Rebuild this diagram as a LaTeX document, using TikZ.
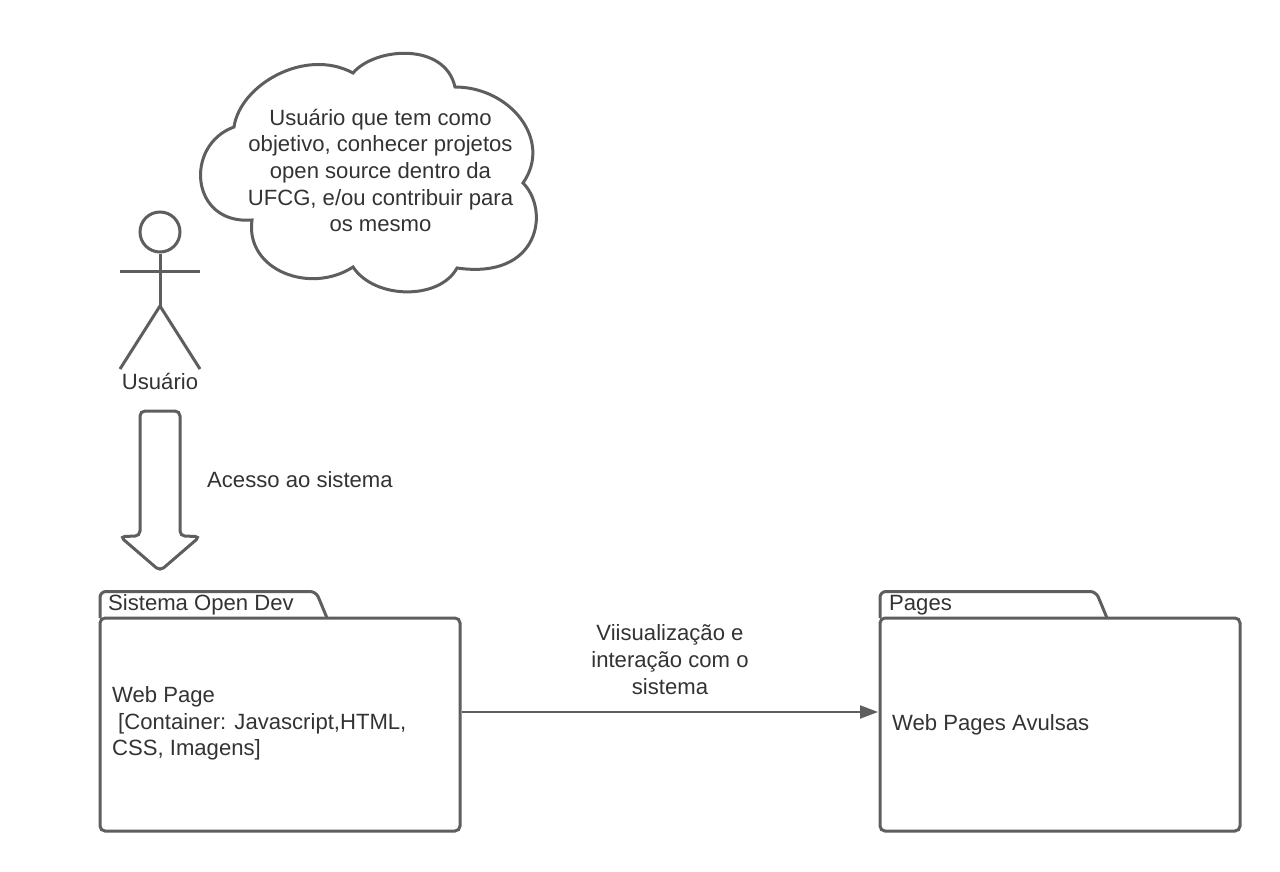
\documentclass[tikz,border=0pt]{standalone}
\usepackage{fontspec}
\setmainfont{Liberation Sans}
\usetikzlibrary{arrows.meta}
\definecolor{linegray}{HTML}{5E5E5E}
\definecolor{textgray}{HTML}{333333}
\tikzset{
  x=1pt,y=-1pt,
  shapeline/.style={draw=linegray,line width=3pt,fill=white},
  label/.style={text=textgray,inner sep=0pt,font=\fontsize{22.1}{26.7}\selectfont},
  folderbody/.style={shapeline,rounded corners=5pt,inner sep=0pt,minimum width=360pt,minimum height=213pt},
  foldertab/.style={shapeline,rounded corners=6pt},
  stick/.style={draw=linegray,line width=3pt},
  link/.style={draw=linegray,line width=2pt,-{Triangle[length=18pt,width=13pt]},shorten >=0.5pt}
}
\begin{document}
\begin{tikzpicture}
\useasboundingbox (0,0) rectangle (1280,872);
\fill[white] (0,0) rectangle (1280,872);
% cloud
\draw[shapeline,line join=miter]
  (234,127) .. controls (240,85) and (305,47) .. (353,73)
  .. controls (375,47) and (445,42) .. (455,87)
  .. controls (510,87) and (553,140) .. (523,183)
  .. controls (550,210) and (540,280) .. (457,268)
  .. controls (440,300) and (375,300) .. (353,267)
  .. controls (310,295) and (245,270) .. (252,220)
  .. controls (190,225) and (184,145) .. (234,127) -- cycle;
\node[label,align=center] (cloudtext) at (380.5,170.5) {Usuário que tem como\\objetivo, conhecer projetos\\open source dentro da\\UFCG, e/ou contribuir para\\os mesmo};
% actor
\node[stick,circle,inner sep=0pt,minimum size=40pt] (head) at (160,232) {};
\coordinate (hip) at (160,306);
\coordinate (armL) at (120,271);
\coordinate (armR) at (200,271);
\coordinate (footL) at (120,369);
\coordinate (footR) at (200,369);
\draw[stick] (head.south) -- (hip);
\draw[stick] (armL) -- (armR);
\draw[stick,line join=miter] (footL) -- (hip) -- (footR);
\node[label] (user) at (160,381) {Usuário};
% block arrow
\draw[shapeline,rounded corners=5pt]
  (140,411) -- (180,411) -- (180,536) -- (200,536.5) -- (160,571) -- (120,536.5) -- (140,536) -- cycle;
\node[label,anchor=base west] (access) at (207,487) {Acesso ao sistema};
% folders
\draw[foldertab] (100,618) -- (100,591.5) -- (316,591.5) -- (327,618);
\node[folderbody] (sys) at (280,724.5) {};
\node[label,anchor=base west] (systitle) at (108,610) {Sistema Open Dev};
\node[label,anchor=west,align=left] (systext) at (112,723.5) {Web Page\\\hspace*{6pt}[Container: Javascript,HTML,\\CSS, Imagens]};
\draw[foldertab] (880,618) -- (880,591.5) -- (1096,591.5) -- (1107,618);
\node[folderbody] (pages) at (1060,724.5) {};
\node[label,anchor=base west] (pagestitle) at (889,610) {Pages};
\node[label,anchor=base west] (pagestext) at (892,730) {Web Pages Avulsas};
% connector
\draw[link] ([yshift=12.5pt]sys.east) -- ([yshift=12.5pt]pages.west);
\node[label,align=center] (linktext) at (670,659.5) {Viisualização e\\interação com o\\sistema};
\end{tikzpicture}
\end{document}
